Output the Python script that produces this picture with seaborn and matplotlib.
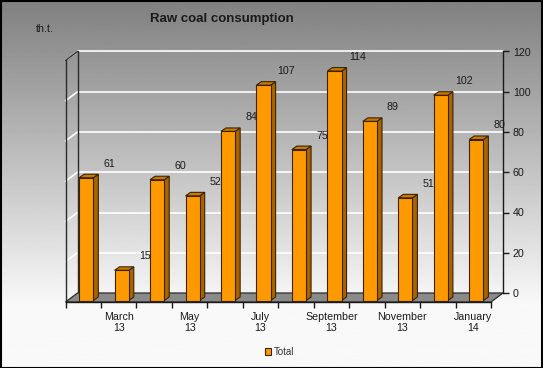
import numpy as np
import pandas as pd
import matplotlib
matplotlib.use('Agg')
import matplotlib.pyplot as plt
import matplotlib.transforms as mtransforms
from matplotlib.patches import Polygon, Patch, Rectangle
import seaborn as sns

# Data
months = ['February\n13', 'March\n13', 'April\n13', 'May\n13', 'June\n13', 'July\n13',
          'August\n13', 'September\n13', 'October\n13', 'November\n13', 'December\n13', 'January\n14']
values = [61, 15, 60, 52, 84, 107, 75, 114, 89, 51, 102, 80]
y_ticks = [0, 20, 40, 60, 80, 100, 120]

df = pd.DataFrame({'month': months, 'total': values})

sns.set_theme(style='white')
plt.rcParams['font.family'] = ['Liberation Sans', 'DejaVu Sans']

W, H = 543, 368
fig = plt.figure(figsize=(W / 100, H / 100), dpi=100)

# grey-to-white background gradient
bg = fig.add_axes([0, 0, 1, 1], zorder=-10)
t = np.linspace(0, 1, 400)
shade = np.clip(0.50 + 0.47 * t / 0.82, 0, 0.975)
bg.imshow(shade[:, None], aspect='auto', cmap='gray', vmin=0, vmax=1,
          extent=[0, 1, 0, 1], origin='upper')
bg.axis('off')

# back wall axes (pixel geometry of the reference)
left, right, bottom, top = 77.5, 503, 293, 51.5
ax = fig.add_axes([left / W, (H - bottom) / H, (right - left) / W, (bottom - top) / H])
ax.patch.set_alpha(0)

# front plane axes (floor front edge) used for the category axis
fdx, fdy = -12, -9
axf = fig.add_axes([(left + fdx) / W, (H - bottom + fdy) / H, (right - left) / W, (bottom - top) / H],
                   sharex=None)
axf.patch.set_alpha(0)

sns.barplot(data=df, x='month', y='total', color='#ff9900', width=0.4, ax=ax,
            edgecolor='#3a2400', linewidth=0.8, saturation=1, zorder=3)
ax.set_xlim(-0.5, 11.5)
ax.set_ylim(0, 120)
axf.set_xlim(-0.5, 11.5)
axf.set_ylim(0, 120)

px_x = 12 / (right - left)
px_y = 120 / (bottom - top)

# bars sit a little in front of the back wall
shift = ax.transData + mtransforms.ScaledTranslation(-9 / 100, -7.5 / 100, fig.dpi_scale_trans)
ddx, ddy = 5 * px_x, 3.5 * px_y
for p in ax.patches:
    p.set_transform(shift)
    p.set_clip_on(False)
    x0, x1, h = p.get_x(), p.get_x() + p.get_width(), p.get_height()
    side = Polygon([(x1, 0), (x1, h), (x1 + ddx, h + ddy), (x1 + ddx, ddy)], closed=True,
                   facecolor='#a86400', edgecolor='#3a2400', lw=0.8, transform=shift,
                   clip_on=False, zorder=2.9)
    topf = Polygon([(x0, h), (x1, h), (x1 + ddx, h + ddy), (x0 + ddx, h + ddy)], closed=True,
                   facecolor='#c97800', edgecolor='#3a2400', lw=0.8, transform=shift,
                   clip_on=False, zorder=2.9)
    ax.add_patch(side)
    ax.add_patch(topf)

# value labels
for i, v in enumerate(values):
    ax.annotate(str(v), xy=(i, v), xycoords=shift, xytext=(23, 14), textcoords='offset pixels',
                ha='center', va='center', fontsize=7.7, color='#1a1a1a', zorder=5)

# floor
fx, fy = fdx * px_x, fdy * px_y
floor = Polygon([(-0.5 + fx, fy), (11.5 + fx, fy), (11.5, 0), (-0.5, 0)], closed=True,
                facecolor='#8a8a8a', edgecolor='#2a2a2a', lw=0.9, clip_on=False, zorder=1)
ax.add_patch(floor)

# gridlines on back wall and left wall
for yv in y_ticks[1:]:
    ax.plot([-0.5, 11.5], [yv, yv], color='white', lw=1.2, zorder=0.5, clip_on=False)
    ax.plot([-0.5 + fx, -0.5], [yv + fy, yv], color='white', lw=1.2, zorder=0.5, clip_on=False)
ax.plot([-0.5, -0.5], [0, 120], color='#2a2a2a', lw=1, zorder=0.6, clip_on=False)
ax.plot([-0.5 + fx, -0.5 + fx], [fy, 120 + fy], color='#2a2a2a', lw=1, zorder=0.6, clip_on=False)
ax.plot([-0.5 + fx, -0.5], [120 + fy, 120], color='#2a2a2a', lw=1, zorder=0.6, clip_on=False)

# value axis on the right
for s in ['top', 'left', 'bottom']:
    ax.spines[s].set_visible(False)
ax.spines['right'].set_color('#1a1a1a')
ax.spines['right'].set_linewidth(1)
ax.yaxis.tick_right()
ax.set_yticks(y_ticks)
ax.tick_params(axis='y', right=True, direction='out', length=4, width=1, color='#1a1a1a',
               labelsize=7.7, labelcolor='#1a1a1a', pad=3)
ax.set_xticks([])
ax.set_xlabel('')
ax.set_ylabel('')
ax.grid(False)

# category axis on the floor front edge
for s in ['top', 'left', 'right']:
    axf.spines[s].set_visible(False)
axf.spines['bottom'].set_color('#1a1a1a')
axf.spines['bottom'].set_linewidth(1)
axf.set_yticks([])
axf.set_xticks(range(12))
axf.set_xticklabels([m if i % 2 == 1 else '' for i, m in enumerate(months)])
axf.set_xticks(np.arange(-0.5, 12, 1), minor=True)
axf.tick_params(axis='x', which='major', length=0, labelsize=7.7, labelcolor='#1a1a1a', pad=7)
axf.tick_params(axis='x', which='minor', bottom=True, length=4, width=1, color='#1a1a1a',
                direction='out')
axf.grid(False)
for lbl in axf.get_xticklabels():
    lbl.set_linespacing(1.15)

# titles
fig.text(150 / W, 1 - 19 / H, 'Raw coal consumption', fontsize=9.5, fontweight='bold',
         color='#1a1a1a', ha='left', va='center')
fig.text(36 / W, 1 - 29 / H, 'th.t.', fontsize=7.7, color='#1a1a1a', ha='left', va='center')

# legend
fig.legend(handles=[Patch(facecolor='#ff9900', edgecolor='#3a2400', lw=0.8, label='Total')],
           loc='center', bbox_to_anchor=(280 / W, 1 - 352 / H), frameon=False, fontsize=7,
           handlelength=0.6, handleheight=0.6, handletextpad=0.3, labelcolor='#333333')

# outer border
fig.add_artist(Rectangle((0.5 / W, 0.5 / H), 1 - 1.5 / W, 1 - 1.5 / H, transform=fig.transFigure,
                         fill=False, edgecolor='black', lw=1.5))

fig.savefig('out.png', dpi=100)
